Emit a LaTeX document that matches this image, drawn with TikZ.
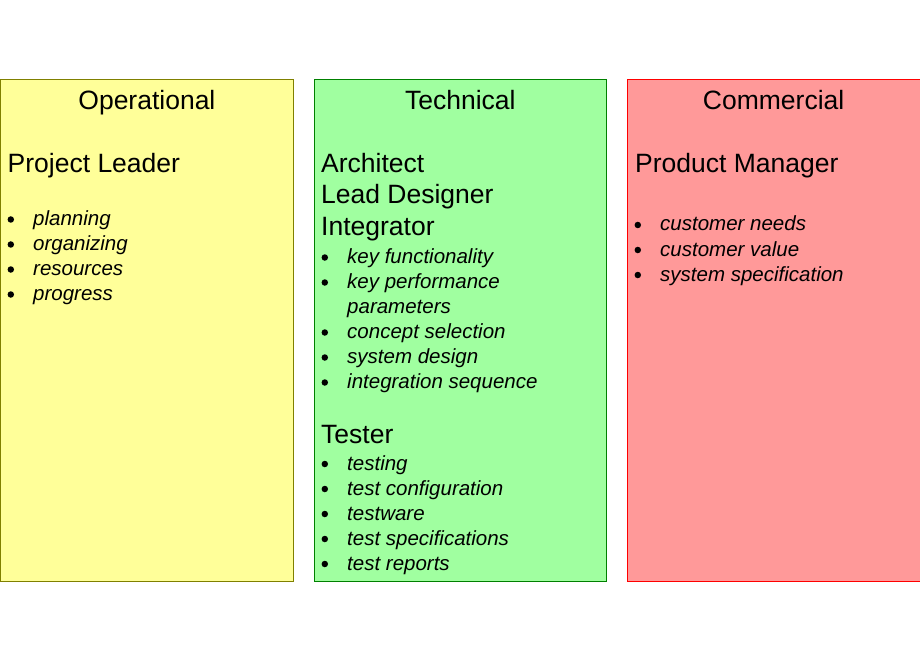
\documentclass[tikz,border=0pt]{standalone}
\usepackage{fontspec}
\setmainfont{Liberation Sans}
\usetikzlibrary{positioning}
\definecolor{opfill}{HTML}{FFFF99}
\definecolor{opline}{HTML}{808000}
\definecolor{techfill}{HTML}{A0FFA0}
\definecolor{techline}{HTML}{008000}
\definecolor{comfill}{HTML}{FF9999}
\definecolor{comline}{HTML}{FF0000}
\begin{document}
\begin{tikzpicture}[x=1pt,y=-1pt,
 heading/.style={anchor=base,inner sep=0pt,font=\fontsize{26.5}{32}\selectfont},
 role/.style={anchor=base west,inner sep=0pt,font=\fontsize{26.5}{32}\selectfont},
 task/.style={anchor=base west,inner sep=0pt,font=\fontsize{20.5}{25}\selectfont\itshape},
 dot/.style={circle,fill=black,inner sep=0pt,minimum size=6.5pt}]
\useasboundingbox (0,0) rectangle (920,660);
% the three columns
\filldraw[fill=opfill,draw=opline,line width=1pt] (.5,79.5) rectangle (293.3,581);
\filldraw[fill=techfill,draw=techline,line width=1pt] (314.3,79.5) rectangle (606.3,581);
\filldraw[fill=comfill,draw=comline,line width=1pt] (627.3,79.5) rectangle (922,581);
\node[heading] (ophead) at (146.9,109.5) {Operational};
\node[heading] (techhead) at (460.3,109.5) {Technical};
\node[heading] (comhead) at (773.6,109.5) {Commercial};
% roles
\node[role] (leader) at (7.5,172.3) {Project Leader};
\foreach \r/\yy/\nm in {Architect/172.3/arch,Lead Designer/204/lead,Integrator/235.7/integ,Tester/443/tester}
 \node[role] (\nm) at (321,\yy) {\r};
\node[role] (prodman) at (635,172.3) {Product Manager};
% tasks: left edge / baseline / text / bullet
\foreach \x/\yy/\t/\b [count=\i] in {
 0/225.5/planning/1,0/250.5/organizing/1,0/275.5/resources/1,0/300.5/progress/1,
 314/263.5/key functionality/1,314/288.5/key performance/1,314/313.5/parameters/0,
 314/338.5/concept selection/1,314/363.5/system design/1,314/388.5/integration sequence/1,
 314/470/testing/1,314/495/test configuration/1,314/520/testware/1,
 314/545/test specifications/1,314/570/test reports/1,
 627/231/customer needs/1,627/256/customer value/1,627/281/system specification/1} {
 \node[task] (task\i) at (\x+33,\yy) {\t};
 \ifnum\b=1
 \node[dot] (bul\i) at (\x+10.8,\yy-6) {};
 \fi}
\end{tikzpicture}
\end{document}
